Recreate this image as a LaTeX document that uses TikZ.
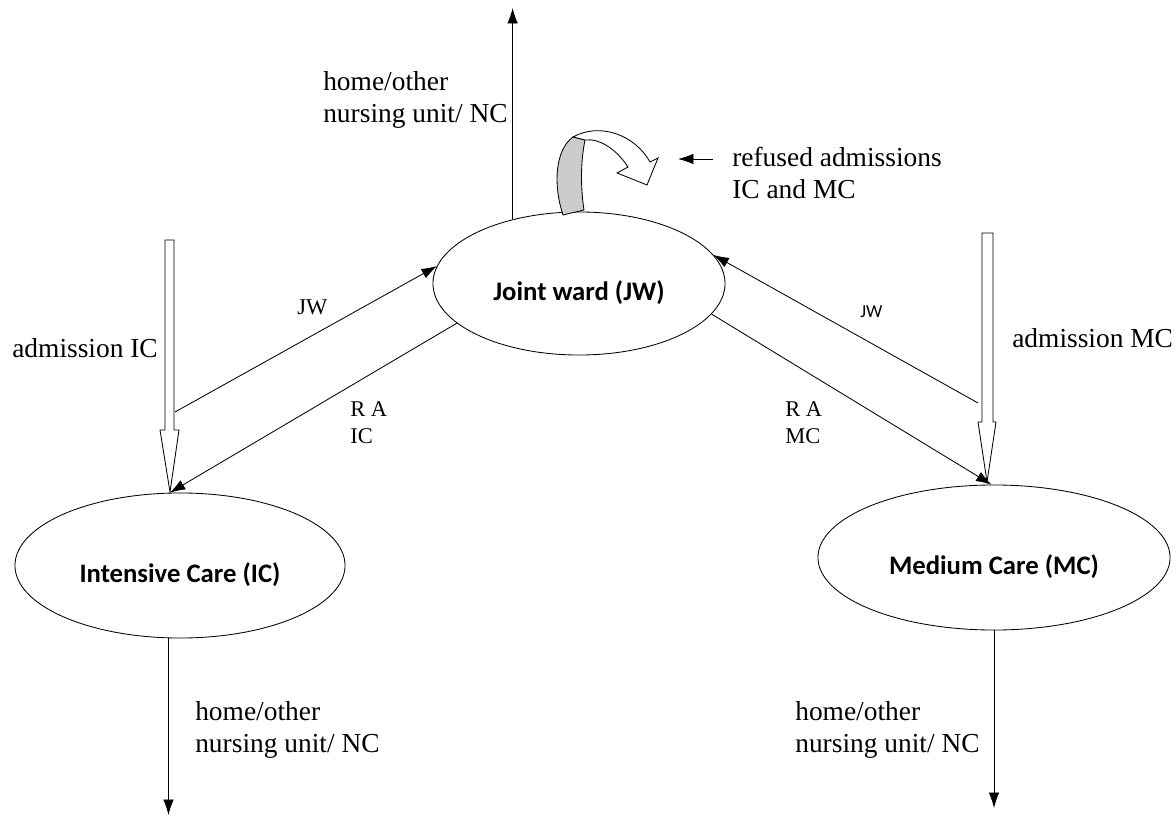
\documentclass[tikz,border=0pt]{standalone}
\usepackage{fontspec}
\setmainfont{Liberation Serif}
\newfontfamily\calibri{Carlito}
\usetikzlibrary{shapes.geometric,arrows.meta}

\newcommand{\wardname}[1]{\raisebox{-6.5pt}[\height][\depth]{#1}}

\begin{document}
\begin{tikzpicture}[x=0.025cm, y=-0.025cm,
    ward/.style={ellipse, draw, line width=0.6pt, inner sep=0pt, font=\calibri\bfseries\fontsize{19}{22}\selectfont},
    txt/.style={anchor=west, inner sep=0pt, align=left, font=\fontsize{19.5}{22.8}\selectfont},
    small/.style={anchor=west, inner sep=0pt, align=left, font=\fontsize{16}{19.2}\selectfont},
    flow/.style={line width=0.6pt, -{Latex[length=11pt,width=7.5pt]}},
    hollow/.style={draw, line width=0.6pt, fill=white}]
    \useasboundingbox (0,0) rectangle (1176,819);

    % the three wards
    \node[ward, minimum width=7.3cm, minimum height=3.575cm] (jw) at (579,283.5) {\wardname{Joint ward (JW)}};
    \node[ward, minimum width=8.25cm, minimum height=3.625cm] (ic) at (180,565.5) {\wardname{Intensive Care (IC)}};
    \node[ward, minimum width=8.8cm, minimum height=3.625cm] (mc) at (994,557.5) {\wardname{Medium Care (MC)}};

    % admissions
    \draw[hollow] (165,240) -- (165,430) -- (160,430) -- (170,492) -- (179,430) -- (174,430) -- (174,240) -- cycle;
    \draw[hollow] (982,233) -- (982,422) -- (978,422) -- (987,482) -- (996,422) -- (993,422) -- (993,233) -- cycle;
    \node[txt] (admic) at (12,348) {admission IC};
    \node[txt] (admmc) at (1012,338) {admission MC};

    % transfers
    \coordinate (icx) at (175,412);
    \coordinate (mcx) at (978,403);
    \draw[flow] (icx) -- (jw.173);
    \draw[flow] (jw.198) -- (ic.98);
    \draw[flow] (mcx) -- (jw.12);
    \draw[flow] (jw.347) -- (mc.92);
    \node[small] (jwl) at (297,307) {JW};
    \node[small] (ral) at (350,423) {R A\\IC};
    \node[anchor=west, inner sep=0pt, font=\calibri\fontsize{13}{15}\selectfont] (jwr) at (860,312) {JW};
    \node[small] (rar) at (785,423) {R A\\MC};

    % discharges
    \coordinate (jwend) at (512,8);
    \coordinate (icend) at (168,815);
    \coordinate (mcend) at (993,808);
    \draw[flow] (jw.136) -- (jw.136 |- jwend);
    \draw[flow] (ic.261) -- (ic.261 |- icend);
    \draw[flow] (mc.south) -- (mc.south |- mcend);
    \node[txt] (homejw) at (323,100) {home/other\\nursing unit/ NC};
    \node[txt] (homeic) at (195,730) {home/other\\nursing unit/ NC};
    \node[txt] (homemc) at (795,730) {home/other\\nursing unit/ NC};

    % refused admissions stay in JW
    \draw[line width=0.6pt, fill=black!20] (563,215) .. controls (553,185) and (555,150) .. (573,137)
        -- (585,140) .. controls (580,165) and (581,190) .. (584,210) -- cycle;
    \draw[line width=0.6pt, fill=white] (573,137) .. controls (600,122) and (635,135) .. (650,162)
        -- (658,158) -- (647,185) -- (617,173) -- (628,167)
        .. controls (617,150) and (600,138) .. (585,140) -- cycle;
    \coordinate (rtail) at (713,159);
    \coordinate (rtip) at (678,159);
    \draw[flow] (rtail) -- (rtip);
    \node[txt] (refused) at (732,173) {refused admissions\\IC and MC};
\end{tikzpicture}
\end{document}
